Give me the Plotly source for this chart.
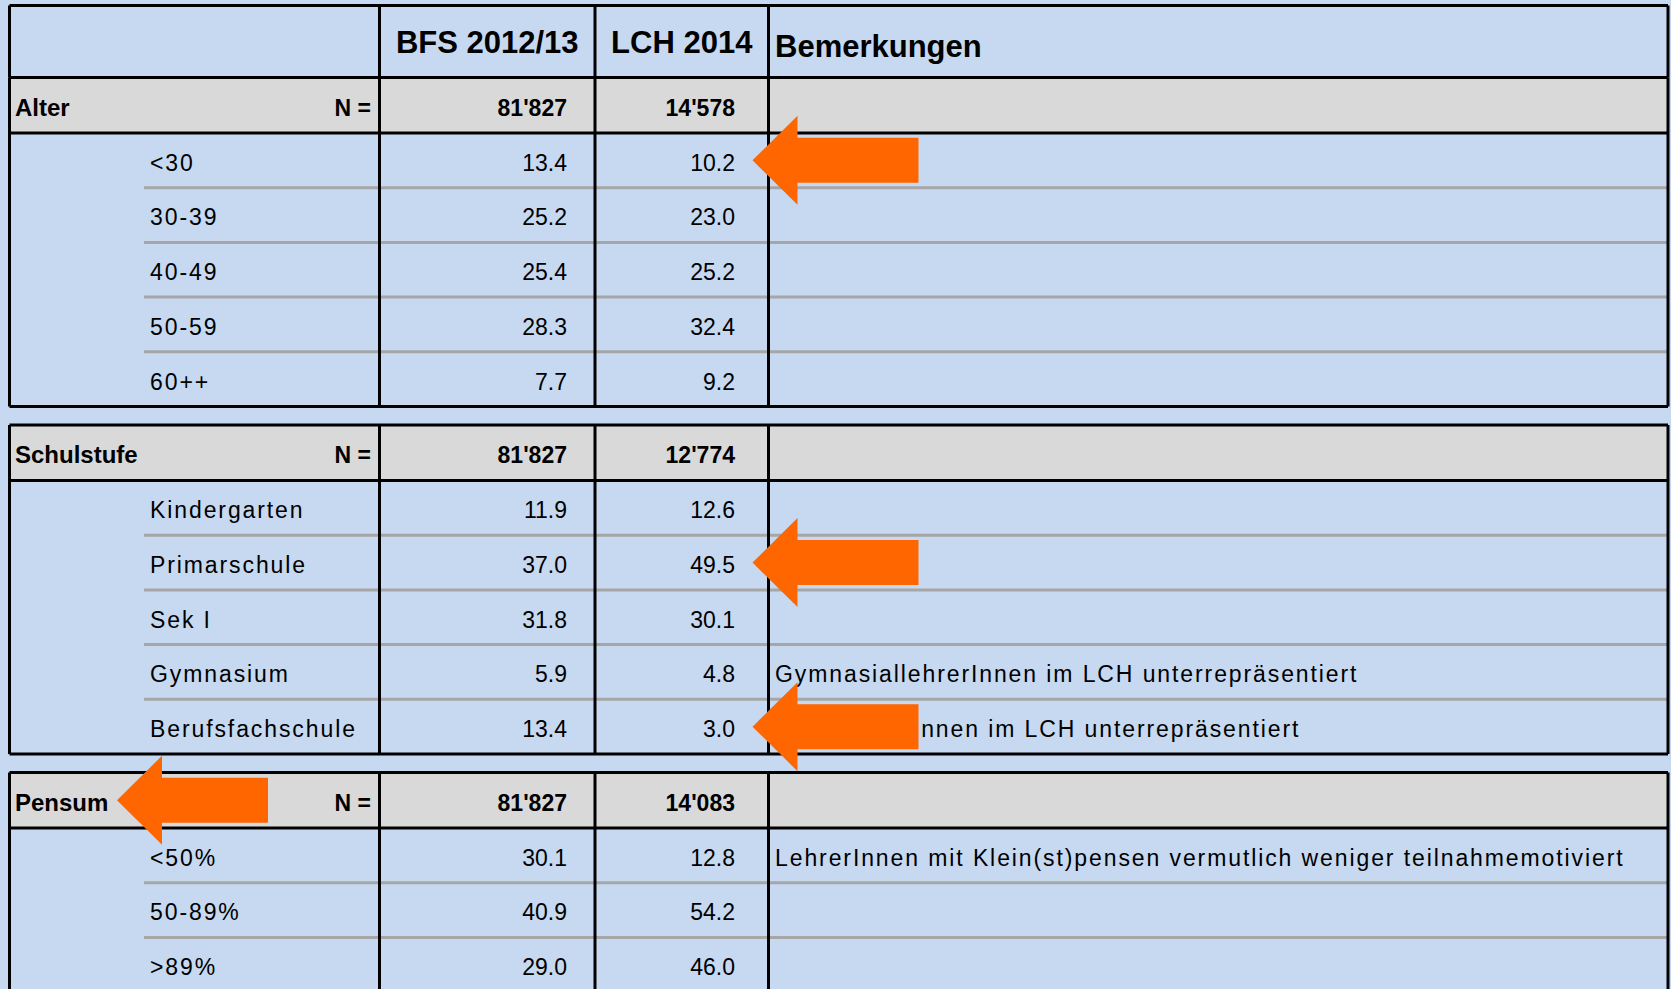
import plotly.graph_objects as go

# ---------------- data ----------------
COL_HEADERS = ["BFS 2012/13", "LCH 2014"]
REMARKS_HEADER = "Bemerkungen"
N_LABEL = "N ="

SECTIONS = ["Alter", "Schulstufe", "Pensum"]
N_BFS = ["81'827", "81'827", "81'827"]
N_LCH = ["14'578", "12'774", "14'083"]

ALTER_CATS = ["<30", "30-39", "40-49", "50-59", "60++"]
ALTER_BFS = [13.4, 25.2, 25.4, 28.3, 7.7]
ALTER_LCH = [10.2, 23.0, 25.2, 32.4, 9.2]
ALTER_NOTES = ["", "", "", "", ""]

STUFE_CATS = ["Kindergarten", "Primarschule", "Sek I", "Gymnasium", "Berufsfachschule"]
STUFE_BFS = [11.9, 37.0, 31.8, 5.9, 13.4]
STUFE_LCH = [12.6, 49.5, 30.1, 4.8, 3.0]
STUFE_NOTES = ["", "", "",
               "GymnasiallehrerInnen im LCH unterrepräsentiert",
               "BFS-LehrerInnen im LCH unterrepräsentiert"]

PENSUM_CATS = ["<50%", "50-89%", ">89%"]
PENSUM_BFS = [30.1, 40.9, 29.0]
PENSUM_LCH = [12.8, 54.2, 46.0]
PENSUM_NOTES = ["LehrerInnen mit Klein(st)pensen vermutlich weniger teilnahmemotiviert", "", ""]

# highlighted cells: (section, row index) -> arrow on LCH value; None -> arrow on section label
HIGHLIGHTS = [("Alter", 0), ("Schulstufe", 1), ("Schulstufe", 4), ("Pensum", None)]

# ---------------- style / geometry ----------------
W, H = 1671, 989
BG_BLUE = "#C6D9F1"
HDR_GRAY = "#D9D9D9"
SEP_GRAY = "#A6A6A6"
ORANGE = "#FF6600"
BLACK = "#000000"
FONT = "Liberation Sans, Arial, sans-serif"

X_L, X_C1, X_C2, X_C3, X_R = 9.5, 379.5, 595.0, 768.5, 1668.0
X_SEP = 144
Y_TOP, HEAD_H, SEC_H, ROW_H, GAP = 5.5, 72.0, 55.5, 54.7, 18.5
LW = 3

X_SEC_LABEL = 15
X_N_LABEL = 371
X_SUB = 150
X_BFS_R = 567
X_LCH_R = 735
X_NOTE = 775
TXT_DY = 4.6  # visual offset of text below row centre
REG_SIZE = 23
REG_SPACING = 1.9

section_data = [
    (ALTER_CATS, ALTER_BFS, ALTER_LCH, ALTER_NOTES),
    (STUFE_CATS, STUFE_BFS, STUFE_LCH, STUFE_NOTES),
    (PENSUM_CATS, PENSUM_BFS, PENSUM_LCH, PENSUM_NOTES),
]

# compute block geometry
blocks = []
y = Y_TOP + HEAD_H
for i, (cats, *_rest) in enumerate(section_data):
    if i > 0:
        y += GAP
    top = y
    hdr_bot = top + SEC_H
    bounds = [hdr_bot + k * ROW_H for k in range(len(cats) + 1)]
    blocks.append(dict(top=top, hdr_bot=hdr_bot, bounds=bounds))
    y = bounds[-1]

shapes = []


def line(x0, y0, x1, y1, color=BLACK, width=LW, layer="below"):
    shapes.append(dict(type="line", xref="x", yref="y", x0=x0, y0=y0, x1=x1, y1=y1,
                       line=dict(color=color, width=width), layer=layer))


# gray fills for section header rows
for b in blocks:
    shapes.append(dict(type="rect", xref="x", yref="y", x0=X_L, x1=X_R, y0=b["top"], y1=b["hdr_bot"],
                       fillcolor=HDR_GRAY, line=dict(width=0), layer="below"))

# gray separators between sub-rows
for b in blocks:
    for yy in b["bounds"][1:-1]:
        line(X_SEP, yy, X_R, yy, color=SEP_GRAY)

# black frames
frames = [(Y_TOP, Y_TOP + HEAD_H)] + [(b["top"], b["bounds"][-1]) for b in blocks]
for (y0, y1) in frames:
    line(X_L, y0, X_R, y0)
    line(X_L, y1, X_R, y1)
    for xx in (X_L, X_C1, X_C2, X_C3, X_R):
        line(xx, y0, xx, y1)
for b in blocks:
    line(X_L, b["hdr_bot"], X_R, b["hdr_bot"])

# arrows
sec_index = {s: i for i, s in enumerate(SECTIONS)}
for sec, row in HIGHLIGHTS:
    b = blocks[sec_index[sec]]
    if row is None:
        cy = (b["top"] + b["hdr_bot"]) / 2
        tx = 117
        shaft = 106
    else:
        cy = (b["bounds"][row] + b["bounds"][row + 1]) / 2
        tx = X_C3 - 16
        shaft = 121
    hx = tx + 45
    ex = hx + shaft
    path = (f"M {tx},{cy} L {hx},{cy-44.5} L {hx},{cy-22.5} L {ex},{cy-22.5} "
            f"L {ex},{cy+22.5} L {hx},{cy+22.5} L {hx},{cy+44.5} Z")
    shapes.append(dict(type="path", xref="x", yref="y", path=path, fillcolor=ORANGE,
                       line=dict(width=0), layer="above"))

# ---------------- text traces ----------------
fig = go.Figure()


def text_trace(xs, ys, texts, pos, size, bold=False, name="", spacing=None):
    fig.add_trace(go.Scatter(
        x=xs, y=ys, text=texts, mode="text", textposition=pos,
        textfont=dict(family=FONT, size=size, color=BLACK, weight="bold" if bold else "normal"),
        name=(f"ls:{spacing}" if spacing else name), hoverinfo="skip", showlegend=False,
        cliponaxis=False,
    ))


hdr_cy = Y_TOP + HEAD_H / 2
text_trace([(X_C1 + X_C2) / 2, (X_C2 + X_C3) / 2], [hdr_cy + 3.6, hdr_cy + 3.6], COL_HEADERS,
           "middle center", 31, bold=True)
text_trace([X_NOTE], [hdr_cy + 8], [REMARKS_HEADER], "middle right", 31, bold=True)

sec_y = [(b["top"] + b["hdr_bot"]) / 2 + TXT_DY for b in blocks]
text_trace([X_SEC_LABEL] * len(SECTIONS), sec_y, SECTIONS, "middle right", 24, bold=True)
text_trace([X_N_LABEL] * len(SECTIONS), sec_y, [N_LABEL] * len(SECTIONS), "middle left", 23, bold=True)
text_trace([X_BFS_R] * len(SECTIONS), sec_y, N_BFS, "middle left", 23, bold=True)
text_trace([X_LCH_R] * len(SECTIONS), sec_y, N_LCH, "middle left", 23, bold=True)

sub_y, sub_t = [], []
bfs_t, lch_t = [], []
note_y, note_t = [], []
for b, (cats, bfs, lch, notes) in zip(blocks, section_data):
    for k, cat in enumerate(cats):
        cy = (b["bounds"][k] + b["bounds"][k + 1]) / 2 + TXT_DY
        sub_y.append(cy)
        sub_t.append(cat)
        bfs_t.append(f"{bfs[k]:.1f}")
        lch_t.append(f"{lch[k]:.1f}")
        if notes[k]:
            note_y.append(cy)
            note_t.append(notes[k])

text_trace([X_SUB] * len(sub_t), sub_y, sub_t, "middle right", REG_SIZE, spacing=REG_SPACING)
text_trace([X_BFS_R] * len(sub_t), sub_y, bfs_t, "middle left", REG_SIZE)
text_trace([X_LCH_R] * len(sub_t), sub_y, lch_t, "middle left", REG_SIZE)
text_trace([X_NOTE] * len(note_t), note_y, note_t, "middle right", REG_SIZE, spacing=REG_SPACING)

fig.update_layout(
    width=W, height=H, margin=dict(l=0, r=0, t=0, b=0),
    paper_bgcolor=BG_BLUE, plot_bgcolor=BG_BLUE,
    xaxis=dict(range=[0, W], visible=False, fixedrange=True),
    yaxis=dict(range=[H, 0], visible=False, fixedrange=True),
    shapes=shapes, showlegend=False, hovermode=False,
)

post = """
(function(){
  document.documentElement.style.margin = '0';
  document.body.style.margin = '0';
  document.body.style.padding = '0';
  document.body.style.overflow = 'hidden';
  document.body.style.background = '""" + BG_BLUE + """';
  var gd = document.getElementById('{plot_id}');
  function sp(){
    gd.querySelectorAll('g.scatterlayer g.trace').forEach(function(g){
      var cd = g.__data__;
      var tr = cd && cd[0] && cd[0].trace;
      if(tr && typeof tr.name === 'string' && tr.name.indexOf('ls:') === 0){
        var v = parseFloat(tr.name.slice(3));
        g.querySelectorAll('text').forEach(function(t){ t.style.letterSpacing = v + 'px'; });
      }
    });
  }
  sp();
  if (gd.on) gd.on('plotly_afterplot', sp);
  setTimeout(sp, 30);
})();
"""

fig.write_html("out.html", config={"displayModeBar": False, "staticPlot": True}, post_script=post)
